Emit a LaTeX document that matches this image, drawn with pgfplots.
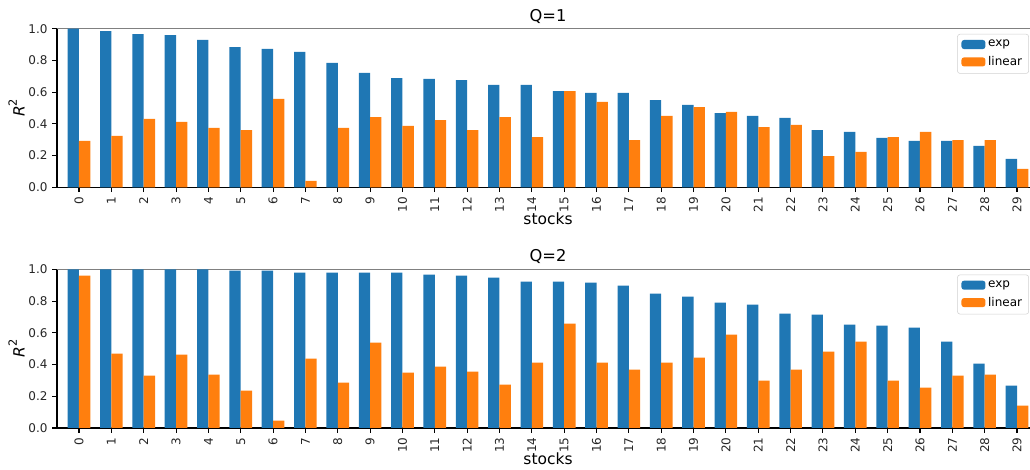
\documentclass[border=0pt]{standalone}
\usepackage{fontspec}
\setmainfont{DejaVu Sans}
\usepackage{pgfplots}
\usepackage{pgfplotstable}
\pgfplotsset{compat=1.18}
\definecolor{tabblue}{HTML}{1F77B4}
\definecolor{taborange}{HTML}{FF7F0E}

\pgfplotstableread{
x exp lin
0 1.000 0.292
1 0.985 0.324
2 0.966 0.431
3 0.960 0.412
4 0.929 0.374
5 0.884 0.361
6 0.872 0.557
7 0.853 0.040
8 0.784 0.374
9 0.721 0.443
10 0.689 0.387
11 0.683 0.424
12 0.676 0.361
13 0.645 0.443
14 0.645 0.317
15 0.607 0.607
16 0.595 0.538
17 0.595 0.298
18 0.550 0.450
19 0.519 0.506
20 0.468 0.475
21 0.450 0.380
22 0.437 0.393
23 0.361 0.197
24 0.349 0.223
25 0.311 0.317
26 0.292 0.349
27 0.292 0.298
28 0.261 0.298
29 0.179 0.116
}\qone

\pgfplotstableread{
x exp lin
0 1.000 0.960
1 1.000 0.468
2 1.000 0.330
3 1.000 0.462
4 1.000 0.336
5 0.992 0.235
6 0.992 0.046
7 0.979 0.437
8 0.979 0.286
9 0.979 0.538
10 0.979 0.349
11 0.966 0.387
12 0.960 0.355
13 0.947 0.273
14 0.922 0.412
15 0.922 0.658
16 0.916 0.412
17 0.897 0.368
18 0.847 0.412
19 0.828 0.443
20 0.790 0.588
21 0.777 0.298
22 0.721 0.368
23 0.714 0.481
24 0.651 0.544
25 0.645 0.298
26 0.632 0.254
27 0.544 0.330
28 0.405 0.336
29 0.267 0.141
}\qtwo

\pgfplotsset{
  myaxis/.style={
    scale only axis,
    width=736.5pt, height=119pt,
    xmin=-0.68, xmax=29.68, ymin=0, ymax=1,
    axis x line*=bottom, axis y line*=left,
    axis line style={line width=0.8pt, black},
    tick align=outside,
    major tick length=3.6pt,
    tick style={line width=0.8pt, black},
    xtick={0,...,29},
    ytick={0,0.2,0.4,0.6,0.8,1.0},
    /pgf/number format/assume math mode=true,
    yticklabel={\pgfmathprintnumber[fixed,fixed zerofill,precision=1]{\tick}},
    xticklabel style={rotate=90, anchor=east, font=\fontsize{9}{10}\selectfont, color=black!85},
    yticklabel style={font=\fontsize{9}{10}\selectfont, color=black!85},
    xlabel={stocks},
    xlabel style={font=\fontsize{11.6}{13}\selectfont, yshift=4.2pt, inner ysep=1pt},
    ylabel={\textit{R}\raisebox{0.9ex}{\fontsize{8.5}{9}\selectfont 2}},
    ylabel style={font=\fontsize{11.6}{13}\selectfont, yshift=-4pt},
    title style={font=\fontsize{12.2}{13}\selectfont, yshift=-5.5pt},
    legend style={at={(axis cs:29.37,0.967)}, anchor=north east,
      draw=black!18, rounded corners=2pt, fill=white,
      font=\fontsize{9}{10}\selectfont, row sep=1.6pt,
      inner xsep=3pt, inner ysep=2.5pt},
    legend cell align=left,
    legend image code/.code={\fill[##1,draw=none] (0pt,-3.4pt) rectangle (18pt,3.4pt);},
    clip=false,
  }
}

\begin{document}
\begin{tikzpicture}[x=0.75pt,y=0.75pt]
\useasboundingbox (0,0) rectangle (1030,470);
\begin{axis}[myaxis, at={(42.75pt,212pt)}, anchor=south west, title={Q=1}]
  \addplot[gray, line width=0.9pt, forget plot] coordinates {(-0.68,1) (29.68,1)};
  \addplot[ybar, bar width=0.35, bar shift=-0.175, fill=tabblue, draw=none] table[x=x,y=exp]{\qone};
  \addplot[ybar, bar width=0.35, bar shift=0.175, fill=taborange, draw=none] table[x=x,y=lin]{\qone};
  \legend{exp,linear}
\end{axis}
\begin{axis}[myaxis, at={(42.75pt,31.5pt)}, anchor=south west, title={Q=2}]
  \addplot[gray, line width=0.9pt, forget plot] coordinates {(-0.68,1) (29.68,1)};
  \addplot[ybar, bar width=0.35, bar shift=-0.175, fill=tabblue, draw=none] table[x=x,y=exp]{\qtwo};
  \addplot[ybar, bar width=0.35, bar shift=0.175, fill=taborange, draw=none] table[x=x,y=lin]{\qtwo};
  \legend{exp,linear}
\end{axis}
\end{tikzpicture}
\end{document}
